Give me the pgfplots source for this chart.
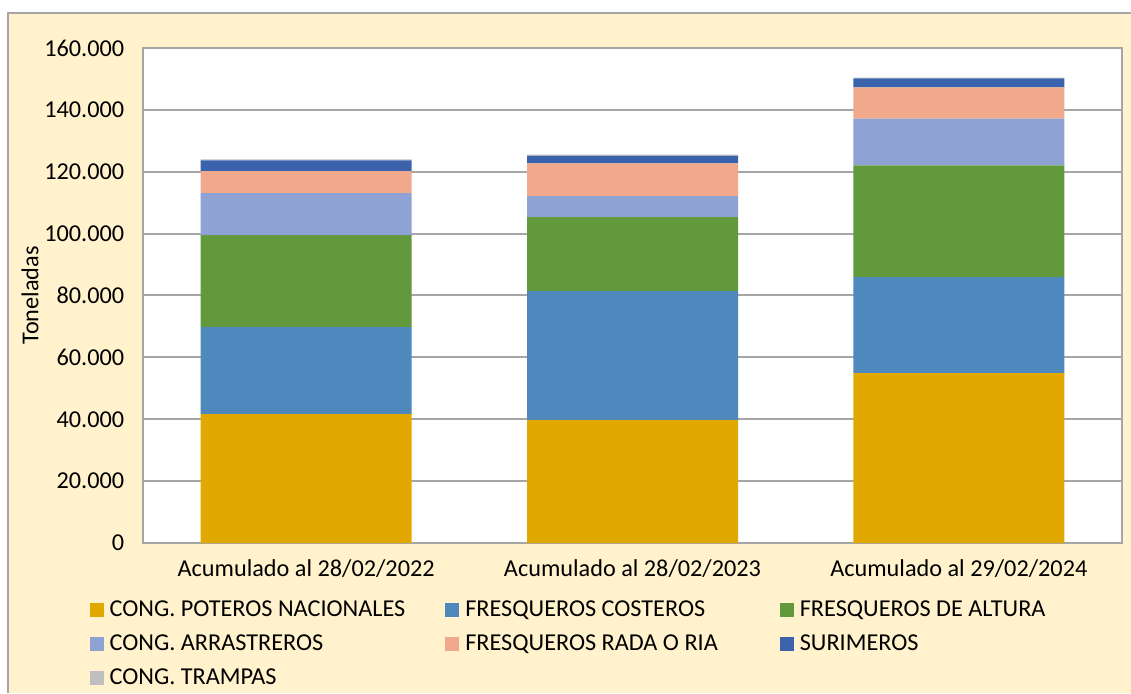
\documentclass[border=0pt]{standalone}
\usepackage{pgfplots}
\pgfplotsset{compat=1.18}
\usepackage{fontspec}
\setmainfont{Carlito}
\definecolor{bgbeige}{HTML}{FFF2CC}
\definecolor{frame}{HTML}{A6A6A6}
\definecolor{cpot}{HTML}{E1A900}
\definecolor{fcos}{HTML}{4F88BD}
\definecolor{falt}{HTML}{62993D}
\definecolor{carr}{HTML}{8EA3D4}
\definecolor{frad}{HTML}{F0A98A}
\definecolor{suri}{HTML}{3A63AC}
\definecolor{ctra}{HTML}{BFBFBF}
\begin{document}
\begin{tikzpicture}[x=0.4pt,y=0.4pt]
\useasboundingbox (0,0) rectangle (1131,693);
\fill[white] (0,0) rectangle (1131,693);
\fill[bgbeige] (8,0) rectangle (1131,680);
\draw[frame,line width=0.8pt] (8,0) -- (8,680) -- (1131,680);
\begin{axis}[
  at={(57.2pt,60pt)}, anchor=south west,
  scale only axis, width=391.6pt, height=198pt,
  ybar stacked, bar width=84.4pt,
  xmin=-0.5, xmax=2.5, ymin=0, ymax=160000,
  xtick={0,1,2},
  xticklabels={Acumulado al 28/02/2022,Acumulado al 28/02/2023,Acumulado al 29/02/2024},
  ytick={0,20000,40000,60000,80000,100000,120000,140000,160000},
  yticklabels={0,20.000,40.000,60.000,80.000,100.000,120.000,140.000,160.000},
  scaled y ticks=false,
  major tick length=0pt,
  ymajorgrids, grid style={frame, line width=0.8pt},
  axis line style={frame, line width=0.8pt},
  axis background/.style={fill=white},
  tick label style={font=\fontsize{9.7}{11.5}\selectfont},
  yticklabel style={xshift=-4pt},
  xticklabel style={yshift=-3pt},
  ylabel={Toneladas},
  ylabel style={font=\fontsize{9.7}{11.5}\selectfont, at={(axis description cs:-0.1154,0.5)}, anchor=center},
  legend columns=3,
  legend cell align=left,
  legend style={at={(axis description cs:-0.0551,-0.113)}, anchor=north west,
    draw=none, fill=none, inner sep=0pt, font=\fontsize{9.7}{11.5}\selectfont,
    nodes={inner sep=0pt, text height=6.9pt, text depth=1.6pt},
    row sep=5.0pt,
    /tikz/column 1/.style={column sep=2.4pt},
    /tikz/column 2/.style={column sep=16pt},
    /tikz/column 3/.style={column sep=2.4pt},
    /tikz/column 4/.style={column sep=24.8pt},
    /tikz/column 5/.style={column sep=2.4pt}},
  legend image code/.code={\fill[#1] (0pt,-2.8pt) rectangle (5.6pt,2.8pt);},
  every axis plot/.append style={draw=none},
]
\addplot[fill=cpot] coordinates {(0,41670) (1,39730) (2,54910)};
\addlegendentry{CONG. POTEROS NACIONALES}
\addplot[fill=fcos] coordinates {(0,28100) (1,41670) (2,31000)};
\addlegendentry{FRESQUEROS COSTEROS}
\addplot[fill=falt] coordinates {(0,29730) (1,23900) (2,36180)};
\addlegendentry{FRESQUEROS DE ALTURA}
\addplot[fill=carr] coordinates {(0,13550) (1,6780) (2,15080)};
\addlegendentry{CONG. ARRASTREROS}
\addplot[fill=frad] coordinates {(0,7110) (1,10660) (2,10100)};
\addlegendentry{FRESQUEROS RADA O RIA}
\addplot[fill=suri] coordinates {(0,3550) (1,2360) (2,2900)};
\addlegendentry{SURIMEROS}
\addplot[fill=ctra] coordinates {(0,300) (1,400) (2,250)};
\addlegendentry{CONG. TRAMPAS}
\end{axis}
\end{tikzpicture}
\end{document}
